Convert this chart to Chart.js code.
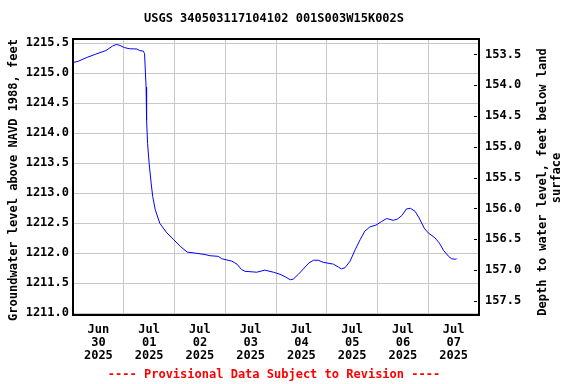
<!DOCTYPE html>
<html>
<head>
<meta charset="utf-8">
<script src="https://cdn.jsdelivr.net/npm/chart.js@4/dist/chart.umd.min.js"></script>
<style>
    html, body { margin: 0; padding: 0; background: #fff; }
</style>
</head>
<body>
<canvas id="gwChart" width="576" height="384"></canvas>
<script>
// ─────────────────────────────
// DATA (days since Jun 30 2025 00:00)
// ─────────────────────────────
const dayOffsets = [
    0.00, 0.10, 0.26, 0.45, 0.65, 0.78, 0.85, 0.91, 1.01, 1.11,
    1.26, 1.31, 1.385, 1.41, 1.44, 1.45, 1.47, 1.50, 1.54, 1.57,
    1.62, 1.71, 1.85, 1.98, 2.11, 2.25, 2.44, 2.60, 2.70, 2.86,
    2.93, 3.13, 3.23, 3.32, 3.39, 3.55, 3.62, 3.78, 3.95, 4.08,
    4.18, 4.28, 4.34, 4.44, 4.54, 4.65, 4.74, 4.83, 4.93, 5.13,
    5.23, 5.29, 5.36, 5.46, 5.56, 5.66, 5.75, 5.85, 5.97, 6.08,
    6.18, 6.31, 6.39, 6.48, 6.57, 6.65, 6.74, 6.82, 6.92, 7.00,
    7.13, 7.22, 7.30, 7.40, 7.46, 7.53, 7.56
];

const waterLevel = [
    1215.18, 1215.20, 1215.26, 1215.32, 1215.38, 1215.455, 1215.48, 1215.47, 1215.43, 1215.41,
    1215.405, 1215.38, 1215.37, 1215.33, 1214.77, 1214.22, 1213.83, 1213.50, 1213.17, 1212.95,
    1212.73, 1212.50, 1212.34, 1212.23, 1212.12, 1212.02, 1212.00, 1211.98, 1211.96, 1211.95,
    1211.91, 1211.87, 1211.82, 1211.73, 1211.70, 1211.69, 1211.685, 1211.72, 1211.685, 1211.65,
    1211.61, 1211.56, 1211.57, 1211.65, 1211.74, 1211.84, 1211.885, 1211.885, 1211.85, 1211.82,
    1211.77, 1211.74, 1211.76, 1211.87, 1212.06, 1212.23, 1212.37, 1212.44, 1212.47, 1212.53,
    1212.58, 1212.55, 1212.57, 1212.63, 1212.74, 1212.75, 1212.70, 1212.59, 1212.42, 1212.34,
    1212.26, 1212.17, 1212.05, 1211.95, 1211.91, 1211.90, 1211.91
];

const levelTicks = [1211.0, 1211.5, 1212.0, 1212.5, 1213.0, 1213.5, 1214.0, 1214.5, 1215.0, 1215.5];
const depthTicks = [153.5, 154.0, 154.5, 155.0, 155.5, 156.0, 156.5, 157.0, 157.5];

const dayLabels = [
    ["Jun", "30", "2025"],
    ["Jul", "01", "2025"],
    ["Jul", "02", "2025"],
    ["Jul", "03", "2025"],
    ["Jul", "04", "2025"],
    ["Jul", "05", "2025"],
    ["Jul", "06", "2025"],
    ["Jul", "07", "2025"]
];

const dayTicks = [];
for (let i = 0; i <= 16; i++) dayTicks.push(i / 2);

// ─────────────────────────────
// TEXT + FRAME PLUGIN
// ─────────────────────────────
const FONT = "bold 12px 'DejaVu Sans Mono', monospace";

const decor = {
    id: "decor",
    afterDraw(chart) {
        const { ctx, chartArea: a, scales } = chart;
        ctx.save();

        // frame
        ctx.strokeStyle = "#000";
        ctx.lineWidth = 2;
        ctx.strokeRect(a.left, a.top, a.right - a.left, a.bottom - a.top);

        // small inner ticks on the right axis
        ctx.lineWidth = 1;
        depthTicks.forEach(v => {
            const y = Math.round(scales.y2.getPixelForValue(v)) + 0.5;
            ctx.beginPath();
            ctx.moveTo(a.right - 5, y);
            ctx.lineTo(a.right - 2, y);
            ctx.stroke();
        });

        ctx.font = FONT;
        ctx.fillStyle = "#000";
        ctx.textAlign = "center";
        ctx.textBaseline = "middle";
        ctx.fillText("USGS 340503117104102 001S003W15K002S", 274, 19);

        ctx.fillStyle = "#ff0000";
        ctx.fillText("---- Provisional Data Subject to Revision ----", 274, 375);

        ctx.fillStyle = "#000";
        ctx.save();
        ctx.translate(14, 180);
        ctx.rotate(-Math.PI / 2);
        ctx.fillText("Groundwater level above NAVD 1988, feet", 0, 0);
        ctx.restore();

        ctx.save();
        ctx.translate(543, 182);
        ctx.rotate(-Math.PI / 2);
        ctx.fillText("Depth to water level, feet below land", 0, 0);
        ctx.restore();

        ctx.save();
        ctx.translate(557, 178);
        ctx.rotate(-Math.PI / 2);
        ctx.fillText("surface", 0, 0);
        ctx.restore();

        ctx.restore();
    }
};

// ─────────────────────────────
// CHART
// ─────────────────────────────
Chart.defaults.font.family = "'DejaVu Sans Mono', monospace";
Chart.defaults.font.size = 12;
Chart.defaults.font.weight = "bold";
Chart.defaults.color = "#000";

const points = dayOffsets.map((d, i) => ({ x: d, y: waterLevel[i] }));

new Chart(document.getElementById("gwChart"), {
    type: "line",
    data: {
        datasets: [{
            data: points,
            borderColor: "#0000ff",
            borderWidth: 1,
            pointRadius: 0,
            tension: 0,
            yAxisID: "y"
        }]
    },
    options: {
        responsive: false,
        animation: false,
        layout: { padding: { top: 39, left: 0, right: 0, bottom: 0 } },
        plugins: {
            legend: { display: false },
            tooltip: { enabled: false }
        },
        scales: {
            x: {
                type: "linear",
                min: 0,
                max: 8,
                afterBuildTicks: s => { s.ticks = dayTicks.map(v => ({ value: v })); },
                afterFit: s => { s.height = 69; },
                border: { display: false },
                grid: {
                    color: c => (c.tick && Number.isInteger(c.tick.value)) ? "#c8c8c8" : "rgba(0,0,0,0)",
                    drawTicks: false
                },
                ticks: {
                    autoSkip: false,
                    maxRotation: 0,
                    padding: 9,
                    font: { lineHeight: 1.05 },
                    callback: v => (v % 1 === 0.5) ? dayLabels[Math.floor(v)] : ""
                }
            },
            y: {
                position: "left",
                min: 1210.972,
                max: 1215.572,
                afterBuildTicks: s => { s.ticks = levelTicks.map(v => ({ value: v })); },
                afterFit: s => { s.width = 73; },
                border: { display: false },
                grid: { color: "#c8c8c8", drawTicks: false },
                ticks: { padding: 4, callback: v => v.toFixed(1) }
            },
            y2: {
                position: "right",
                reverse: true,
                min: 153.25,
                max: 157.73,
                afterBuildTicks: s => { s.ticks = depthTicks.map(v => ({ value: v })); },
                afterFit: s => { s.width = 97; },
                border: { display: false },
                grid: { drawOnChartArea: false, drawTicks: false },
                ticks: { padding: 6, callback: v => v.toFixed(1) }
            }
        }
    },
    plugins: [decor]
});
</script>
</body>
</html>
